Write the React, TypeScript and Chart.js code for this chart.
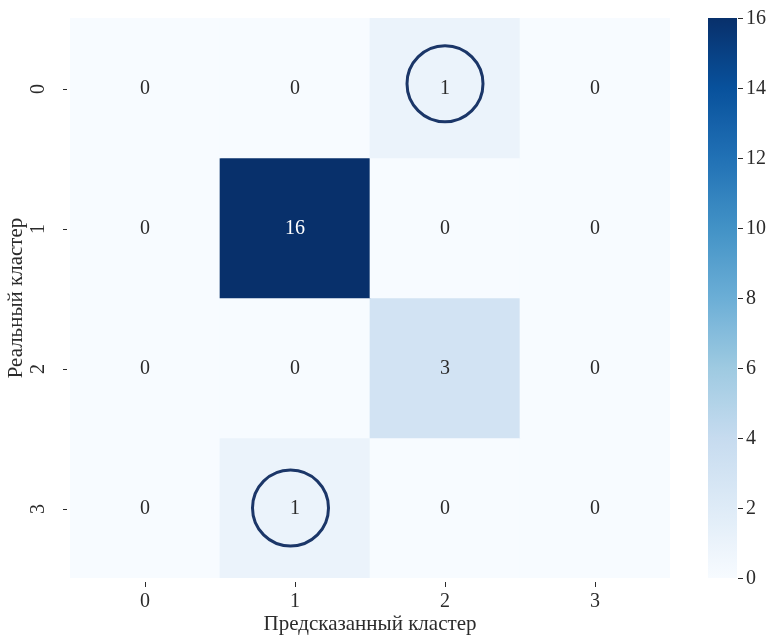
import React, { useEffect, useRef } from "react";
import { Chart, registerables } from "chart.js";

Chart.register(...registerables);

const predictedLabels = ["0", "1", "2", "3"];
const actualLabels = ["0", "1", "2", "3"];
// rows = actual cluster, columns = predicted cluster
const row0 = [0, 0, 1, 0];
const row1 = [0, 16, 0, 0];
const row2 = [0, 0, 3, 0];
const row3 = [0, 1, 0, 0];
const matrix = [row0, row1, row2, row3];
const colorbarTicks = [0, 2, 4, 6, 8, 10, 12, 14, 16];
const vmax = 16;
// highlighted cells: [column, row] with slight offsets as in the original
const circleCells = [
  { x: 2, y: -0.03 },
  { x: 0.97, y: 3 },
];

const xTitle = "Предсказанный кластер";
const yTitle = "Реальный кластер";

const BLUES = [
  "#f7fbff", "#deebf7", "#c6dbef", "#9ecae1", "#6baed6",
  "#4292c6", "#2171b5", "#08519c", "#08306b",
];

function hexToRgb(h: string) {
  const n = parseInt(h.slice(1), 16);
  return [(n >> 16) & 255, (n >> 8) & 255, n & 255];
}
function blues(t: number) {
  t = Math.max(0, Math.min(1, t));
  const p = t * (BLUES.length - 1);
  const i = Math.min(BLUES.length - 2, Math.floor(p));
  const f = p - i;
  const a = hexToRgb(BLUES[i]);
  const b = hexToRgb(BLUES[i + 1]);
  const c = a.map((v, k) => Math.round(v + (b[k] - v) * f));
  return `rgb(${c[0]},${c[1]},${c[2]})`;
}

const FONT = "'Liberation Serif', 'Times New Roman', serif";
const TEXT = "#2b2b2b";

export default function App() {
  const ref = useRef<HTMLCanvasElement | null>(null);

  useEffect(() => {
    if (!ref.current) return;
    const datasets = matrix.map((row, r) => ({
      label: "row " + r,
      data: row.map(() => [r, r + 1]),
      backgroundColor: row.map((v) => blues(v / vmax)),
      borderWidth: 0,
      barPercentage: 1,
      categoryPercentage: 1,
      grouped: false,
      xAxisID: "x",
      yAxisID: "y",
    }));

    const overlay = {
      id: "overlay",
      afterDatasetsDraw(chart: any) {
        const ctx = chart.ctx;
        const xs = chart.scales.x;
        const ys = chart.scales.y;
        const cb = chart.scales.cb;
        const area = chart.chartArea;
        ctx.save();
        // values
        ctx.font = `20px ${FONT}`;
        ctx.textAlign = "center";
        ctx.textBaseline = "middle";
        matrix.forEach((row, r) => {
          row.forEach((v, c) => {
            const px = xs.getPixelForValue(c);
            const py = ys.getPixelForValue(r + 0.5) + 1;
            ctx.fillStyle = v / vmax > 0.5 ? "#ffffff" : TEXT;
            ctx.fillText(String(v), px, py);
          });
        });
        // circles
        ctx.strokeStyle = "#1b3668";
        ctx.lineWidth = 3;
        circleCells.forEach((p) => {
          const px = xs.getPixelForValue(p.x);
          const py = ys.getPixelForValue(p.y + 0.5);
          ctx.beginPath();
          ctx.arc(px, py, 38, 0, Math.PI * 2);
          ctx.stroke();
        });
        // y tick labels rotated + tick marks
        ctx.fillStyle = TEXT;
        ctx.strokeStyle = TEXT;
        ctx.lineWidth = 1;
        actualLabels.forEach((lab, r) => {
          const py = ys.getPixelForValue(r + 0.5) + 1;
          ctx.beginPath();
          ctx.moveTo(area.left - 7, Math.round(py) + 0.5);
          ctx.lineTo(area.left - 3, Math.round(py) + 0.5);
          ctx.stroke();
          ctx.save();
          ctx.translate(area.left - 31, py);
          ctx.rotate(-Math.PI / 2);
          ctx.fillText(lab, 0, 0);
          ctx.restore();
        });
        // x tick marks
        predictedLabels.forEach((lab, c) => {
          const px = Math.round(xs.getPixelForValue(c)) + 0.5;
          ctx.beginPath();
          ctx.moveTo(px, area.bottom + 4);
          ctx.lineTo(px, area.bottom + 9);
          ctx.stroke();
        });
        // y title
        ctx.save();
        ctx.font = `21px ${FONT}`;
        ctx.translate(16, (area.top + area.bottom) / 2);
        ctx.rotate(-Math.PI / 2);
        ctx.fillText(yTitle, 0, 0);
        ctx.restore();
        // colorbar
        const cbL = 708;
        const cbW = 29;
        const top = cb.getPixelForValue(vmax);
        const bot = cb.getPixelForValue(0);
        const g = ctx.createLinearGradient(0, bot, 0, top);
        for (let i = 0; i <= 32; i++) g.addColorStop(i / 32, blues(i / 32));
        ctx.fillStyle = g;
        ctx.fillRect(cbL, top, cbW, bot - top);
        ctx.fillStyle = TEXT;
        ctx.textAlign = "left";
        ctx.font = `20px ${FONT}`;
        colorbarTicks.forEach((t) => {
          const py = Math.round(cb.getPixelForValue(t)) + 0.5;
          ctx.beginPath();
          ctx.moveTo(cbL + cbW + 1, py);
          ctx.lineTo(cbL + cbW + 6, py);
          ctx.stroke();
          ctx.fillText(String(t), cbL + cbW + 9, py);
        });
        ctx.restore();
      },
    };

    const chart = new Chart(ref.current, {
      type: "bar",
      data: { labels: predictedLabels, datasets: datasets as any },
      options: {
        animation: false,
        responsive: false,
        layout: { padding: { top: 18, left: 0, right: 0, bottom: 0 } },
        plugins: { legend: { display: false }, tooltip: { enabled: false } },
        scales: {
          x: {
            type: "category",
            grid: { display: false, drawTicks: false },
            border: { display: false },
            ticks: { color: TEXT, font: { family: FONT, size: 20 }, padding: 12 },
            title: {
              display: true,
              text: xTitle,
              color: TEXT,
              font: { family: FONT, size: 21 },
              padding: { top: 1, bottom: 0 },
            },
            afterFit: (s: any) => { s.height = 59; },
          },
          y: {
            type: "linear",
            min: 0,
            max: 4,
            reverse: true,
            grid: { display: false },
            border: { display: false },
            ticks: { display: false },
            afterFit: (s: any) => { s.width = 70; },
          },
          cb: {
            type: "linear",
            position: "right",
            min: 0,
            max: vmax,
            grid: { display: false },
            border: { display: false },
            ticks: { display: false },
            afterFit: (s: any) => { s.width = 101; },
          },
        },
      },
      plugins: [overlay],
    });
    return () => chart.destroy();
  }, []);

  return (
    <div style={{ position: "fixed", left: 0, top: 0, width: 771, height: 637, background: "#fff" }}>
      <canvas ref={ref} width={771} height={637} style={{ width: 771, height: 637 }} />
    </div>
  );
}
